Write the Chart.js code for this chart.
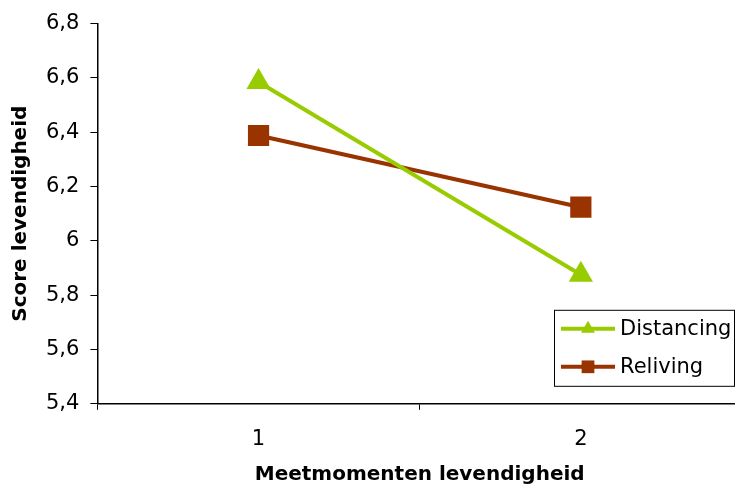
<!DOCTYPE html>
<html>
<head>
<meta charset="utf-8">
<script src="https://cdn.jsdelivr.net/npm/chart.js@4/dist/chart.umd.min.js"></script>
<style>
  html, body { margin: 0; padding: 0; background: #fff; overflow: hidden; }
  #wrap { width: 757px; height: 490px; }
</style>
</head>
<body>
<div id="wrap"><canvas id="line-chart" width="757" height="490"></canvas></div>
<script>
const momenten = ["1", "2"];
const distancing = [6.585, 5.875];
const reliving = [6.388, 6.124];
const yTicks = [5.4, 5.6, 5.8, 6.0, 6.2, 6.4, 6.6, 6.8];

Chart.defaults.font.family = '"DejaVu Sans", sans-serif';
Chart.defaults.color = '#000';

// legenda in een kader rechtsonder in het plotgebied
const kaderLegenda = {
   id: 'kaderLegenda',
   afterDraw(chart) {
      const ctx = chart.ctx;
      const area = chart.chartArea;
      const x0 = 554, y0 = area.bottom - 94, w = 180, h = 76;
      ctx.save();
      ctx.fillStyle = '#fff';
      ctx.fillRect(x0, y0, w, h);
      ctx.strokeStyle = '#000';
      ctx.lineWidth = 1;
      ctx.strokeRect(x0 + 0.5, y0 + 0.5, w, h);
      chart.data.datasets.forEach((ds, i) => {
         const cy = y0 + 19 + i * 38;
         ctx.strokeStyle = ds.borderColor;
         ctx.lineWidth = 4;
         ctx.beginPath();
         ctx.moveTo(x0 + 7, cy);
         ctx.lineTo(x0 + 61, cy);
         ctx.stroke();
         ctx.fillStyle = ds.backgroundColor;
         Chart.helpers.drawPoint(ctx, { pointStyle: ds.pointStyle, radius: ds.pointStyle === 'triangle' ? 8 : 9, rotation: 0, borderWidth: 0 }, x0 + 34, cy);
         ctx.fillStyle = '#000';
         ctx.font = '21px "DejaVu Sans", sans-serif';
         ctx.textBaseline = 'middle';
         ctx.fillText(ds.label, x0 + 66, cy + 1);
      });
      ctx.restore();
   }
};

const ctx1 = document.getElementById("line-chart");
const chartGraph1 = new Chart(ctx1, {
   type: 'line',
   data: {
      labels: momenten,
      datasets: [{
         label: "Distancing",
         data: distancing,
         borderWidth: 4,
         borderColor: '#99CC00',
         backgroundColor: '#99CC00',
         pointStyle: 'triangle',
         pointRadius: 14,
         pointBorderWidth: 0
      }, {
         label: "Reliving",
         data: reliving,
         borderWidth: 4,
         borderColor: '#993300',
         backgroundColor: '#993300',
         pointStyle: 'rect',
         pointRadius: 15,
         pointBorderWidth: 0
      }]
   },
   options: {
      responsive: false,
      animation: false,
      layout: { padding: { top: 9, left: 9, bottom: 0 } },
      scales: {
         x: {
            offset: true,
            grid: { display: true, offset: true, drawOnChartArea: false, color: '#000', tickLength: 6 },
            border: { color: '#000', width: 1.5 },
            ticks: { font: { size: 21 }, padding: 17 },
            title: { display: true, text: 'Meetmomenten levendigheid', font: { size: 20, weight: 'bold' }, padding: { top: -6, bottom: 3 } }
         },
         y: {
            min: 5.4,
            max: 6.8,
            afterBuildTicks: (axis) => { axis.ticks = yTicks.map(v => ({ value: v })); },
            grid: { display: true, drawOnChartArea: false, color: '#000', tickLength: 7 },
            border: { color: '#000', width: 1.5 },
            ticks: {
               font: { size: 21 },
               padding: 11,
               callback: (v) => String(Number(v.toFixed(1))).replace('.', ',')
            },
            title: { display: true, text: 'Score levendigheid', font: { size: 20, weight: 'bold' }, padding: { top: 0, bottom: 2 } }
         }
      },
      plugins: {
         legend: { display: false },
         tooltip: { enabled: false }
      }
   },
   plugins: [kaderLegenda]
});
</script>
</body>
</html>
